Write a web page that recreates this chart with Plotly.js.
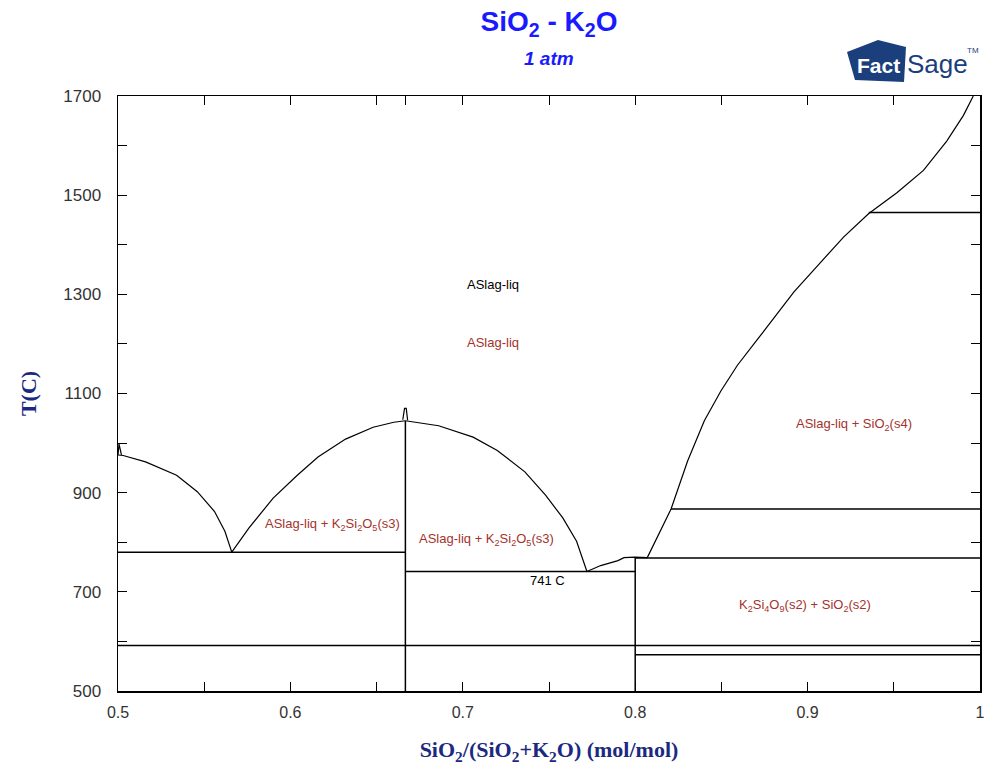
<!DOCTYPE html>
<html>
<head>
<meta charset="utf-8">
<script src="https://cdn.plot.ly/plotly-3.0.1.min.js"></script>
<style>html,body{margin:0;padding:0;background:#fff;}#chart{width:990px;height:767px;}</style>
</head>
<body>
<div id="chart"></div>
<script>
// ---- Liquidus segments (x = SiO2 mole fraction, T in C) ----
const liqA_x = [0.5, 0.503, 0.516, 0.534, 0.546, 0.556, 0.562, 0.566];
const liqA_T = [976, 975, 962, 935, 902, 862, 822, 780];
const liqB_x = [0.566, 0.576, 0.590, 0.604, 0.616, 0.632, 0.648, 0.660, 0.6667];
const liqB_T = [780, 829, 889, 935, 972, 1008, 1032, 1042, 1045];
const liqC_x = [0.6667, 0.686, 0.706, 0.720, 0.736, 0.748, 0.758, 0.766, 0.772];
const liqC_T = [1045, 1035, 1012, 985, 942, 895, 849, 802, 741];
const liqD_x = [0.772, 0.780, 0.790, 0.7935, 0.800, 0.807];
const liqD_T = [741, 753, 763, 769, 770, 769];
const liqE_x = [0.807, 0.8208, 0.8304, 0.8401, 0.8497, 0.8593, 0.8709, 0.8805, 0.8921, 0.9056, 0.9210, 0.9355, 0.9518, 0.9672, 0.9807, 0.9904, 0.9961];
const liqE_T = [769, 867, 964, 1045, 1105, 1157, 1209, 1253, 1305, 1357, 1416, 1463, 1505, 1550, 1609, 1661, 1700];
// small artefact peaks at congruent melting points
const peak1_x = [0.5, 0.5006, 0.502];
const peak1_T = [976, 998, 976];
const peak2_x = [0.6652, 0.6662, 0.6672, 0.668];
const peak2_T = [1047, 1070, 1070, 1046];

// ---- Invariant (horizontal) lines ----
const isoT  = [780, 741, 592, 768, 867, 1465, 573];
const isoX0 = [0.5, 0.6667, 0.5, 0.8, 0.8208, 0.9355, 0.8];
const isoX1 = [0.6667, 0.8, 1.0, 1.0, 1.0, 1.0, 1.0];

// ---- Compound (vertical) lines ----
const compX    = [0.6667, 0.8];
const compTtop = [1045, 770];
const Tmin = 500, Tmax = 1700;

// ---- Labels ----
const labText = ['ASlag-liq', 'ASlag-liq',
  'ASlag-liq + K<sub>2</sub>Si<sub>2</sub>O<sub>5</sub>(s3)',
  'ASlag-liq + K<sub>2</sub>Si<sub>2</sub>O<sub>5</sub>(s3)',
  '741 C', 'ASlag-liq + SiO<sub>2</sub>(s4)',
  'K<sub>2</sub>Si<sub>4</sub>O<sub>9</sub>(s2) + SiO<sub>2</sub>(s2)'];
const labX = [0.7175, 0.7175, 0.6245, 0.7135, 0.749, 0.927, 0.8985];
const labT = [1320, 1203, 836, 806, 722, 1037, 673];
const labIsRed = [false, true, true, true, false, true, true];

// ---- Axis ticks ----
const xTickVals = [0.5, 0.6, 0.6667, 0.7, 0.8, 0.9, 1];
const xTickText = ['0.5', '0.6', '', '0.7', '0.8', '0.9', '1'];
const yTickVals = [500, 700, 900, 1100, 1300, 1500, 1700];

const lineStyle = {color: '#000', width: 1.2};
const isoStyle = {color: '#000', width: 1.5};
const traces = [];
function addLine(xs, ys, st) {
  traces.push({x: xs, y: ys, type: 'scatter', mode: 'lines', line: st,
    hoverinfo: 'skip', showlegend: false});
}
[[liqA_x, liqA_T], [liqB_x, liqB_T], [liqC_x, liqC_T], [liqD_x, liqD_T],
 [liqE_x, liqE_T], [peak1_x, peak1_T], [peak2_x, peak2_T]].forEach(p => addLine(p[0], p[1], lineStyle));
for (let i = 0; i < isoT.length; i++) addLine([isoX0[i], isoX1[i]], [isoT[i], isoT[i]], isoStyle);
for (let i = 0; i < compX.length; i++) addLine([compX[i], compX[i]], [Tmin, compTtop[i]], isoStyle);

const px = v => (v - 118) / 862, py = v => (691 - v) / 595;
const sans = 'Liberation Sans, Arial, sans-serif';
const narrow = 'Liberation Sans Narrow, Liberation Sans, Arial, sans-serif';
const annotations = [];
for (let i = 0; i < labText.length; i++) {
  annotations.push({x: labX[i], y: labT[i], xref: 'x', yref: 'y', text: labText[i],
    xanchor: 'center', yanchor: 'middle',
    showarrow: false, font: {family: sans, size: 13,
    color: labIsRed[i] ? '#a3332c' : '#000'}});
}
// subtitle
annotations.push({x: 0.5, xref: 'paper', y: py(58), yref: 'paper', xanchor: 'center', yanchor: 'middle',
  text: '<b><i>1 atm</i></b>', showarrow: false, font: {family: sans, size: 19, color: '#1a1aff'}});
// logo text
annotations.push({x: px(878), y: py(66), xref: 'paper', yref: 'paper', xanchor: 'center', yanchor: 'middle',
  text: '<b>Fact</b>', showarrow: false,
  font: {family: sans, size: 21, color: '#ffffff'}});
annotations.push({x: px(905), y: py(64), xref: 'paper', yref: 'paper', xanchor: 'left', yanchor: 'middle',
  text: 'Sage', showarrow: false,
  font: {family: narrow, size: 26, color: '#1b3f7d'}});
annotations.push({x: px(965), y: py(50), xref: 'paper', yref: 'paper', xanchor: 'left', yanchor: 'middle',
  text: 'TM', showarrow: false,
  font: {family: narrow, size: 8, color: '#1b3f7d'}});

const shapes = [{type: 'path', xref: 'paper', yref: 'paper', layer: 'below',
  path: `M ${px(847)} ${py(52)} L ${px(878)} ${py(40)} L ${px(906)} ${py(47)} L ${px(904)} ${py(82)} L ${px(855)} ${py(80)} Z`,
  fillcolor: '#1b3f7d', line: {width: 0}}];

const layout = {
  width: 990, height: 767,
  margin: {l: 118, r: 10, t: 96, b: 76},
  paper_bgcolor: '#fff', plot_bgcolor: '#fff',
  title: {text: '<b>SiO<sub>2</sub> - K<sub>2</sub>O</b>', x: 0.5, xref: 'paper', y: 0.972, yanchor: 'middle',
    font: {family: sans, size: 28, color: '#1a1aff'}},
  xaxis: {range: [0.5, 1], tickvals: xTickVals, ticktext: xTickText,
    ticks: 'inside', ticklen: 9, tickcolor: '#000', tickwidth: 1, ticklabelstandoff: 6,
    minor: {dtick: 0.05, tick0: 0.5, ticks: 'inside', ticklen: 9, tickcolor: '#000'},
    showline: true, linecolor: '#000', linewidth: 1.5, mirror: 'ticks', showgrid: false, zeroline: false,
    tickfont: {family: sans, size: 16, color: '#333'},
    title: {text: '<b>SiO<sub>2</sub>/(SiO<sub>2</sub>+K<sub>2</sub>O) (mol/mol)</b>', standoff: 22,
      font: {family: 'Liberation Serif, Times New Roman, serif', size: 22, color: '#1b2a80'}}},
  yaxis: {range: [500, 1700], tickvals: yTickVals,
    ticks: 'inside', ticklen: 9, tickcolor: '#000', tickwidth: 1, ticklabelstandoff: 12,
    minor: {dtick: 100, tick0: 500, ticks: 'inside', ticklen: 9, tickcolor: '#000'},
    showline: true, linecolor: '#000', linewidth: 1.5, mirror: 'ticks', showgrid: false, zeroline: false,
    tickfont: {family: sans, size: 17, color: '#333'},
    title: {text: '<b>T(C)</b>', standoff: 20,
      font: {family: 'Liberation Serif, Times New Roman, serif', size: 22, color: '#1b2a80'}}},
  annotations: annotations,
  shapes: shapes,
  showlegend: false
};
Plotly.newPlot('chart', traces, layout, {displayModeBar: false, staticPlot: true});
</script>
</body>
</html>
